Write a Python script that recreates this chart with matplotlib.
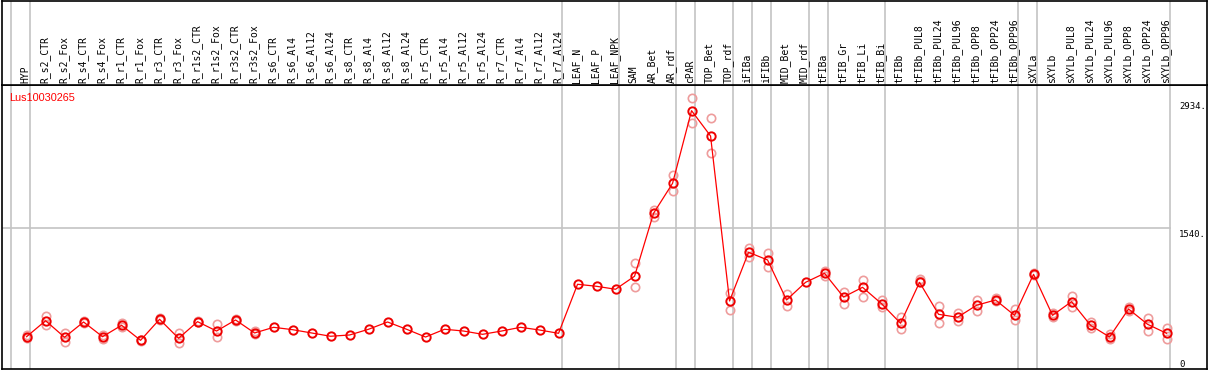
#! /usr/bin/env python3

import numpy as np
import matplotlib
matplotlib.use("Agg")
import matplotlib.pyplot as plt

## Data

gene = "Lus10030265"

labels = [
    "HYP",
    "R_s2_CTR", "R_s2_Fox", "R_s4_CTR", "R_s4_Fox", "R_r1_CTR", "R_r1_Fox",
    "R_r3_CTR", "R_r3_Fox", "R_r1s2_CTR", "R_r1s2_Fox", "R_r3s2_CTR", "R_r3s2_Fox",
    "R_s6_CTR", "R_s6_Al4", "R_s6_Al12", "R_s6_Al24",
    "R_s8_CTR", "R_s8_Al4", "R_s8_Al12", "R_s8_Al24",
    "R_r5_CTR", "R_r5_Al4", "R_r5_Al12", "R_r5_Al24",
    "R_r7_CTR", "R_r7_Al4", "R_r7_Al12", "R_r7_Al24",
    "LEAF_N", "LEAF_P", "LEAF_NPK", "SAM", "AR_Bet", "AR_rdf", "cPAR",
    "TOP_Bet", "TOP_rdf", "iFIBa", "iFIBb", "MID_Bet", "MID_rdf",
    "tFIBa", "tFIB_Gr", "tFIB_Li", "tFIB_Bi",
    "tFIBb", "tFIBb_PUL8", "tFIBb_PUL24", "tFIBb_PUL96",
    "tFIBb_OPP8", "tFIBb_OPP24", "tFIBb_OPP96",
    "sXYLa", "sXYLb", "sXYLb_PUL8", "sXYLb_PUL24", "sXYLb_PUL96",
    "sXYLb_OPP8", "sXYLb_OPP24", "sXYLb_OPP96",
]

mean = [256, 445, 249, 430, 256, 391, 213, 462, 237, 434, 323, 454, 300,
        367, 339, 300, 261, 276, 344, 430, 344, 252, 344, 323, 284, 323, 367, 335, 296,
        877, 853, 818, 972, 1718, 2073, 2934, 2634, 679, 1256, 1165, 691,
        900, 1007, 726, 841, 647, 415, 900, 521, 486, 628, 691, 509,
        995, 509, 671, 391, 252, 584, 403, 296]

nan = np.nan
rep1 = [276, 505, 303, 440, 276, 415, 222, 477, 296, 444, 403, 462, 320,
        nan, nan, nan, nan, nan, nan, nan, nan, nan, nan, nan, nan, nan, nan, nan, nan,
        nan, nan, nan, 1126, 1757, 2172, 3081, 2844, 770, 1303, 1244, 762,
        nan, 1038, 789, 928, 691, 486, 940, 623, 540, 691, 710, 584,
        1010, 540, 735, 434, 284, 611, 477, 363]
rep2 = [237, 395, 190, 420, 229, 375, 205, 454, 178, 425, 249, 446, 288,
        nan, nan, nan, nan, nan, nan, nan, nan, nan, nan, nan, nan, nan, nan, nan, nan,
        nan, nan, nan, 841, 1678, 1986, 2784, 2429, 572, 1197, 1085, 623,
        nan, 975, 640, 730, 604, 351, 919, 415, 438, 564, 680, 450,
        985, 486, 611, 355, 225, 560, 327, 232]

# columns after which a grey separator is drawn
breaks = [-1, 0, 28, 31, 34, 35, 37, 38, 39, 41, 42, 45, 52, 53, 60]

ymax_label = 2934
ymid_label = 1540

## Figure

W, H = 1209, 370
fig = plt.figure(figsize=(W / 100, H / 100), dpi=100)

left = 1.5 / W
width = 1205.5 / W
ax = fig.add_axes([left, (H - 368.5) / H, width, (368.5 - 85) / H])
hd = fig.add_axes([left, (H - 85) / H, width, 84.5 / H])

x = np.arange(len(labels))
xlim = (-1.32, 62.13)

for a in (ax, hd):
    a.set_xlim(*xlim)
    a.set_xticks([])
    a.set_yticks([])
    for s in a.spines.values():
        s.set_color("black")
        s.set_linewidth(1.2)
    for b in breaks:
        a.axvline(b + 0.2, color="#c4c4c4", lw=1.2, zorder=0)

ax.set_ylim(-121, 3238)
hd.set_ylim(0, 1)

ax.plot([xlim[0], 60.2], [ymid_label, ymid_label], color="#c4c4c4", lw=1.2, zorder=0)

# replicates
ax.plot(x, rep1, "o", ls="none", ms=6, mfc="none", mec="#ee9c9c", mew=1.2, zorder=2)
ax.plot(x, rep2, "o", ls="none", ms=6, mfc="none", mec="#ee9c9c", mew=1.2, zorder=2)

# mean
ax.plot(x, mean, color="red", lw=0.9, zorder=3)
ax.plot(x, mean, "o", ls="none", ms=6, mfc="none", mec="#ee0000", mew=1.4, zorder=4)

ax.text(0.0065, 0.953, gene, transform=ax.transAxes, color="red",
        fontsize=7.8, family="Liberation Sans", ha="left", va="center")

tx = 60.66
ax.text(tx, ymax_label, "2934.", fontsize=6.5, family="DejaVu Sans Mono",
        ha="left", va="bottom")
ax.text(tx, ymid_label - 15, "1540.", fontsize=6.5, family="DejaVu Sans Mono",
        ha="left", va="top")
ax.text(tx, -15, "0", fontsize=6.5, family="DejaVu Sans Mono",
        ha="left", va="top")

for i, lab in enumerate(labels):
    hd.text(i - 0.05, 0.02, lab, rotation=90, fontsize=7, family="DejaVu Sans Mono",
            ha="center", va="bottom")

fig.savefig("out.png", dpi=100)
